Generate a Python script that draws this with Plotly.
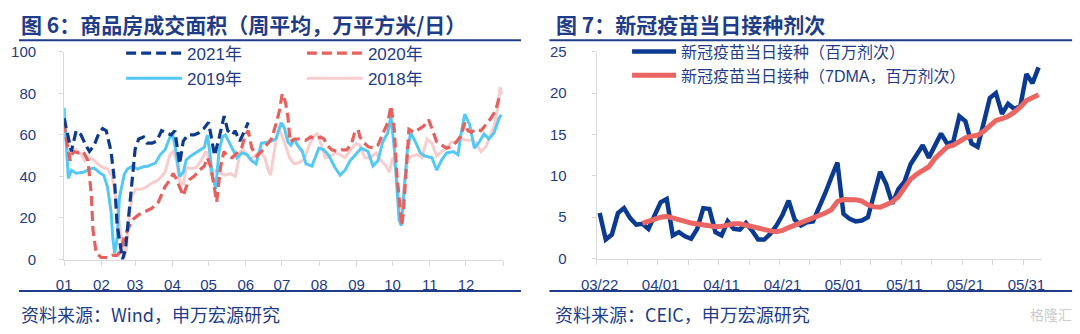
import pandas as pd
import plotly.graph_objects as go

W, H = 1080, 334

# ---------------- 图6：商品房成交面积（周平均，万平方米/日） ----------------
# x = day of year, y = weekly average
day_2021 = [0, 3, 6, 10, 14, 18, 21, 25, 29, 32, 35, 39, 42, 44, 47, 48.5, 51, 54, 57, 59,
            62, 66, 69, 73, 77, 81, 85, 89, 92, 96, 99, 103, 108, 112, 116, 120, 122, 125,
            129, 133, 136, 140, 142, 146, 150, 153]
val_2021 = [68, 60, 52, 62, 60, 55, 52, 55, 61, 63, 62, 52, 37, 17, 4, 0, 5, 23, 41, 53,
            58, 59, 56, 56, 57, 62, 61, 60, 62, 46, 57, 60, 60, 61, 63, 66, 60, 50,
            59, 69, 62, 60, 62, 57, 62, 66]

day_2020 = [0, 2, 5, 7.6, 11.7, 15.8, 19.9, 21, 22.6, 24, 26.7, 30.8, 36, 40, 44, 47, 48.4, 50,
            52.5, 56.6, 62, 67.5, 73, 78.4, 83.8, 88, 90.6, 93, 96, 99, 101.5, 104, 108, 112.4,
            116.5, 119, 122, 124.6, 126.8, 130, 132.8, 135.5, 139.6, 143.7, 147.8, 150.5, 153,
            156, 160, 164, 168, 172.3, 176.4, 179, 181.3, 184, 186, 187.8, 191.3, 195.4, 200.8,
            205, 209, 213, 216, 218.5, 222.6, 226.7, 230.8, 235, 239, 241.7, 244.4, 245.8, 248.5,
            252.6, 256.7, 260.8, 264.8, 269, 271.6, 274.4, 276.5, 278.4, 280.6, 282, 284, 286.6,
            290.7, 294.8, 298.9, 303, 305.7, 309.7, 313.8, 318, 322, 326, 330, 333, 335.6, 338.3,
            342.4, 346.5, 350.6, 354.7, 358.8, 361.5, 364]
val_2020 = [66, 57, 47.5, 52, 51.3, 52, 47.5, 41, 31, 14, 3, 1, 1, 2, 2, 4, 8, 11,
            14, 19, 21.6, 23, 24.7, 27.7, 35, 38.4, 41.4, 39, 35, 30.7, 35, 38.4, 40, 43,
            45, 49, 44.4, 35, 27.7, 44.4, 52, 49.8, 49, 51.3, 54.3, 59.7, 62,
            53.6, 49.8, 52, 55, 58, 65.8, 71.8, 79.8, 75.6, 68.8, 56.6, 58, 58, 57.4,
            59, 58, 59, 58, 55, 52.8, 52, 52.8, 52.8, 56, 61.5, 62.5, 59, 56.6,
            54.3, 53.6, 55, 60.4, 65.8, 74, 62.7, 41.4, 29, 16.3, 23, 41.4, 62.7,
            61.2, 62.7, 64.2, 67.3, 62.7, 56.6, 55, 53.6, 54.3, 56.6, 59.7, 65.8, 62, 61.2,
            62.7, 62, 65, 68, 71.8, 78, 78.7]

day_2019 = [0, 2, 3.5, 6, 10, 16, 21, 25, 29, 33, 36, 39, 40.5, 42, 44, 46, 50, 52.5, 57, 61,
            65, 70, 76, 80, 84, 88, 90.5, 93, 96, 99, 101.5, 105.5, 111, 116.5, 119, 121, 123,
            126, 128.7, 131.5, 134, 137, 141, 143.7, 147.8, 152, 156, 159.5, 164, 171, 176,
            180.4, 183, 186, 188.5, 191.3, 194, 198, 201, 206, 211.7, 215.8, 220, 225, 229.4,
            233.5, 237.6, 241.7, 245.8, 247, 252.6, 256.7, 260.8, 264.8, 269, 271.6, 274.4, 277,
            278.4, 280.3, 282.5, 285.2, 288, 292, 296, 300, 305.7, 309.7, 313.8, 318, 323.4,
            327.4, 330, 333, 337, 341, 345, 349, 353, 357.4, 361.5, 363.4]
val_2019 = [73, 55, 39, 43, 41.5, 42, 43.5, 44, 42, 40.5, 35, 23, 10, 3, 10, 30, 41, 43.5, 45, 43.5,
            44.5, 45, 46.5, 50.5, 53, 59, 59.5, 52, 40, 42, 48, 50, 52, 54, 60, 52, 41,
            34, 52, 59, 60, 56.5, 52, 49, 51.3, 50.5, 47.5, 46, 56, 56.6, 58,
            65.8, 63.5, 56.6, 55, 58, 55, 52, 46, 45, 53.6, 52.8, 50, 44.4, 40.6,
            43, 47.5, 50, 52.8, 53.6, 52, 45, 47.5, 56.6, 61, 68.8, 53.6, 34,
            19, 16.3, 31, 52, 61, 56.6, 51.3, 49.8, 49, 43, 48, 51.3, 52,
            50.5, 61, 70, 65, 53.6, 56.6, 60.4, 58, 61, 68, 69.6]

day_2018 = [0, 2, 4.4, 6, 10, 14.4, 17, 20, 24, 28, 32, 36, 40, 43, 46, 48.4, 50, 51.7, 54, 56.6,
            59.3, 63.4, 67.5, 73, 78.4, 83.8, 88, 90.6, 93.4, 96, 99, 101.5, 105.6, 110, 113.8,
            117.9, 120.6, 122, 126, 130, 134, 138, 142.3, 146.4, 149, 152, 154.6, 158.7, 162.7,
            166.8, 169.6, 171.5, 173.6, 176.4, 179, 183, 187.3, 191.3, 195.4, 199.5, 203.6,
            207.7, 210.4, 213, 217.2, 221.3, 225.3, 229.4, 233.5, 239, 243, 245.8, 249.9, 254,
            259.4, 263.5, 267.6, 270.3, 273, 275.7, 277.6, 279.3, 281, 283, 285.2, 289.3, 293.4,
            297.5, 301.6, 305.7, 309.7, 313.8, 318, 322, 326, 330, 334.2, 338.3, 342.4, 346.5,
            350.6, 354.7, 358.2, 361, 362.3, 364]
val_2018 = [63.5, 56.6, 47.5, 52, 52.8, 50.5, 47.5, 49, 48.2, 46, 44.4, 43.7, 40, 29, 17, 5, 1, 5, 20, 30.7,
            33.8, 33.8, 34.6, 36.8, 38.4, 42, 50.5, 52, 47.5, 37.6, 36, 44.4, 43.7, 44.4, 47.5,
            52, 49, 41.4, 43, 41.4, 40.6, 41.4, 40, 52, 52.8, 50.5, 48.2, 49.8, 52,
            49, 43, 40.6, 49, 58, 62.7, 56.6, 49, 46, 46.7, 48.2, 55,
            59.7, 60.4, 56.6, 49, 49.8, 51.3, 50.5, 49, 53.6, 55.9, 55, 49, 49,
            51.3, 47.5, 45.2, 42, 49, 43, 33.8, 23, 24.5, 38.4, 48.2, 49.8, 50.5,
            49, 58, 56, 49.8, 52, 53.6, 56.6, 56.6, 58, 57.4, 57.4, 56, 52,
            54.3, 60.4, 65.8, 75.6, 83, 79.5]

month_ticks = [0, 31, 59, 90, 120, 151, 181, 212, 243, 273, 304, 334, 365]
month_labels = ["01", "02", "03", "04", "05", "06", "07", "08", "09", "10", "11", "12", ""]

# ---------------- 图7：新冠疫苗当日接种剂次（百万剂次） ----------------
vac_dates = pd.date_range("2021-03-22", "2021-06-02", freq="D")
vac_daily = [5.5, 2.3, 2.9, 5.5, 6.1, 4.9, 4.1, 4.2, 3.6, 5.1,
             6.8, 7.2, 2.8, 3.2, 2.7, 2.4, 3.6, 6.1, 6.0, 3.2,
             2.8, 4.5, 3.6, 3.5, 4.3, 3.4, 2.3, 2.3, 3.0, 4.0,
             5.3, 7.0, 4.7, 4.0, 4.4, 4.5, 6.1, 7.9, 9.8, 11.6,
             5.4, 4.8, 4.5, 4.6, 5.0, 7.7, 10.5, 9.0, 6.65, 8.4,
             9.3, 11.4, 12.6, 13.7, 12.2, 13.7, 15.1, 13.9, 14.1, 17.2,
             16.6, 13.9, 13.5, 16.4, 19.4, 20.0, 17.5, 18.7, 18.1, 18.4,
             22.3, 21.2, 23.1]
vac_7dma = [None] * 7 + [
             4.25, 4.5, 4.8,
             5.0, 5.1, 4.95, 4.75, 4.5, 4.3, 4.15, 4.0, 3.9, 3.85,
             3.9, 4.1, 4.2, 4.2, 4.0, 3.8, 3.6, 3.45, 3.35, 3.25,
             3.4, 3.75, 4.05, 4.35, 4.55, 4.8, 5.2, 5.5, 5.9, 6.9,
             7.15, 7.15, 7.1, 6.95, 6.5, 6.25, 6.2, 6.5, 6.85, 7.5,
             8.6, 9.6, 10.2, 10.6, 11.1, 12.1, 12.9, 13.5, 13.7, 14.1,
             14.6, 14.8, 14.9, 15.4, 16.0, 16.7, 16.9, 17.2, 17.7, 18.3,
             19.1, 19.4, 19.8]
vac_tick_labels = [d.strftime("%m/%d") for d in vac_dates[::10]]

# ---------------- styling ----------------
TEXT = "#1F3C88"
AXIS = "#D9D9D9"
NAVY = "#0E3A8E"
RED = "#E8605E"
CYAN = "#55C8F5"
PINK = "#F8CDCD"
FONT = "Liberation Sans, Arial, Noto Sans CJK SC, sans-serif"
CJK = "Noto Sans CJK SC, sans-serif"


def px(x):
    return x / W


def py(y):
    return 1 - y / H


fig = go.Figure()

# 图6 lines, bottom to top
fig.add_trace(go.Scatter(x=day_2018, y=val_2018, name="2018年", mode="lines",
                         line=dict(color=PINK, width=3), legend="legend2", legendrank=2))
fig.add_trace(go.Scatter(x=day_2019, y=val_2019, name="2019年", mode="lines",
                         line=dict(color=CYAN, width=3), legend="legend", legendrank=2))
fig.add_trace(go.Scatter(x=day_2020, y=val_2020, name="2020年", mode="lines",
                         line=dict(color=RED, width=3.2, dash="10px,5px"), legend="legend2",
                         legendrank=1))
fig.add_trace(go.Scatter(x=day_2021, y=val_2021, name="2021年", mode="lines",
                         line=dict(color=NAVY, width=3.2, dash="10px,5px"), legend="legend",
                         legendrank=1))

# 图7 lines
fig.add_trace(go.Scatter(x=vac_dates, y=vac_daily, name="新冠疫苗当日接种（百万剂次）", mode="lines",
                         line=dict(color="#0B3A92", width=4.5), xaxis="x2", yaxis="y2",
                         legend="legend3"))
fig.add_trace(go.Scatter(x=vac_dates, y=vac_7dma, name="新冠疫苗当日接种（7DMA，百万剂次）", mode="lines",
                         line=dict(color="#EB6563", width=5), xaxis="x2", yaxis="y2",
                         legend="legend3"))
# carrier for the date-label axis
fig.add_trace(go.Scatter(x=[vac_dates[0]], y=[None], mode="lines", showlegend=False,
                         hoverinfo="skip", xaxis="x3", yaxis="y2"))

half_day = pd.Timedelta(hours=12)
vac_range = [vac_dates[0] - half_day, vac_dates[-1] + half_day]
vac_bounds = [vac_dates[0] - half_day + pd.Timedelta(days=5 * k) for k in range(15)]

tickfont = dict(family=FONT, size=15, color=TEXT)
common_axis = dict(showgrid=False, zeroline=False, showline=True, linecolor=AXIS, linewidth=1,
                   ticks="outside", tickcolor=AXIS, tickfont=tickfont)

legend_style = dict(bgcolor="rgba(0,0,0,0)", font=dict(family=FONT, size=17, color=TEXT),
                    orientation="v", xanchor="left", yanchor="top", itemwidth=56,
                    tracegroupgap=0)

fig.update_layout(
    width=W, height=H, margin=dict(l=0, r=0, t=0, b=0),
    paper_bgcolor="white", plot_bgcolor="white", showlegend=True,
    xaxis=dict(domain=[px(49), px(496)], range=[0, 365], tickvals=month_ticks,
               ticktext=month_labels, ticklen=5, ticklabelstandoff=6, anchor="y", **common_axis),
    yaxis=dict(domain=[py(264), py(45)], range=[0, 100], dtick=20, ticklen=4,
               ticklabelstandoff=20, anchor="x", **common_axis),
    xaxis2=dict(domain=[px(591), px(1044)], range=vac_range, tickvals=vac_bounds,
                showticklabels=False, ticklen=5, anchor="y2", **common_axis),
    xaxis3=dict(domain=[px(591), px(1044)], range=vac_range, overlaying="x2", anchor="y2",
                tickvals=list(vac_dates[::10]), ticktext=vac_tick_labels, ticks="outside",
                ticklen=5, tickcolor="rgba(0,0,0,0)", ticklabelstandoff=7,
                showline=False, showgrid=False, zeroline=False, tickfont=tickfont),
    yaxis2=dict(domain=[py(263), py(45)], range=[0, 25], dtick=5, ticklen=4,
                ticklabelstandoff=22, anchor="x2", **common_axis),
    legend=dict(x=px(107), y=py(28), **legend_style),
    legend2=dict(x=px(291), y=py(28), **legend_style),
    legend3=dict(x=px(622), y=py(27),
                 **{**legend_style, "itemwidth": 44,
                    "font": dict(family=FONT, size=16, color=TEXT)}),
)

# titles, rules and sources
title_font = dict(family=CJK, size=21, color=TEXT)
src_font = dict(family=CJK, size=18, color=TEXT)
fig.add_annotation(text="<b>图 6：商品房成交面积（周平均，万平方米/日）</b>", x=px(3), y=py(16),
                   xref="paper", yref="paper", xanchor="left", yanchor="middle",
                   showarrow=False, font=title_font)
fig.add_annotation(text="<b>图 7：新冠疫苗当日接种剂次</b>", x=px(548), y=py(16),
                   xref="paper", yref="paper", xanchor="left", yanchor="middle",
                   showarrow=False, font=title_font)
fig.add_annotation(text="资料来源：Wind，申万宏源研究", x=px(3), y=py(321),
                   xref="paper", yref="paper", xanchor="left", yanchor="middle",
                   showarrow=False, font=src_font)
fig.add_annotation(text="资料来源：CEIC，申万宏源研究", x=px(547), y=py(321),
                   xref="paper", yref="paper", xanchor="left", yanchor="middle",
                   showarrow=False, font=src_font)
fig.add_annotation(text="格隆汇", x=px(1077), y=py(321), xref="paper", yref="paper",
                   xanchor="right", yanchor="middle", showarrow=False, opacity=0.5,
                   font=dict(family=CJK, size=14, color="#9A9A9A"))

for x0, x1 in [(3, 514), (543, 1075)]:
    for yy in (33, 297):
        fig.add_shape(type="line", xref="paper", yref="paper", x0=px(x0), x1=px(x1),
                      y0=py(yy), y1=py(yy), line=dict(color=TEXT, width=2))

fig.write_html("out.html")
